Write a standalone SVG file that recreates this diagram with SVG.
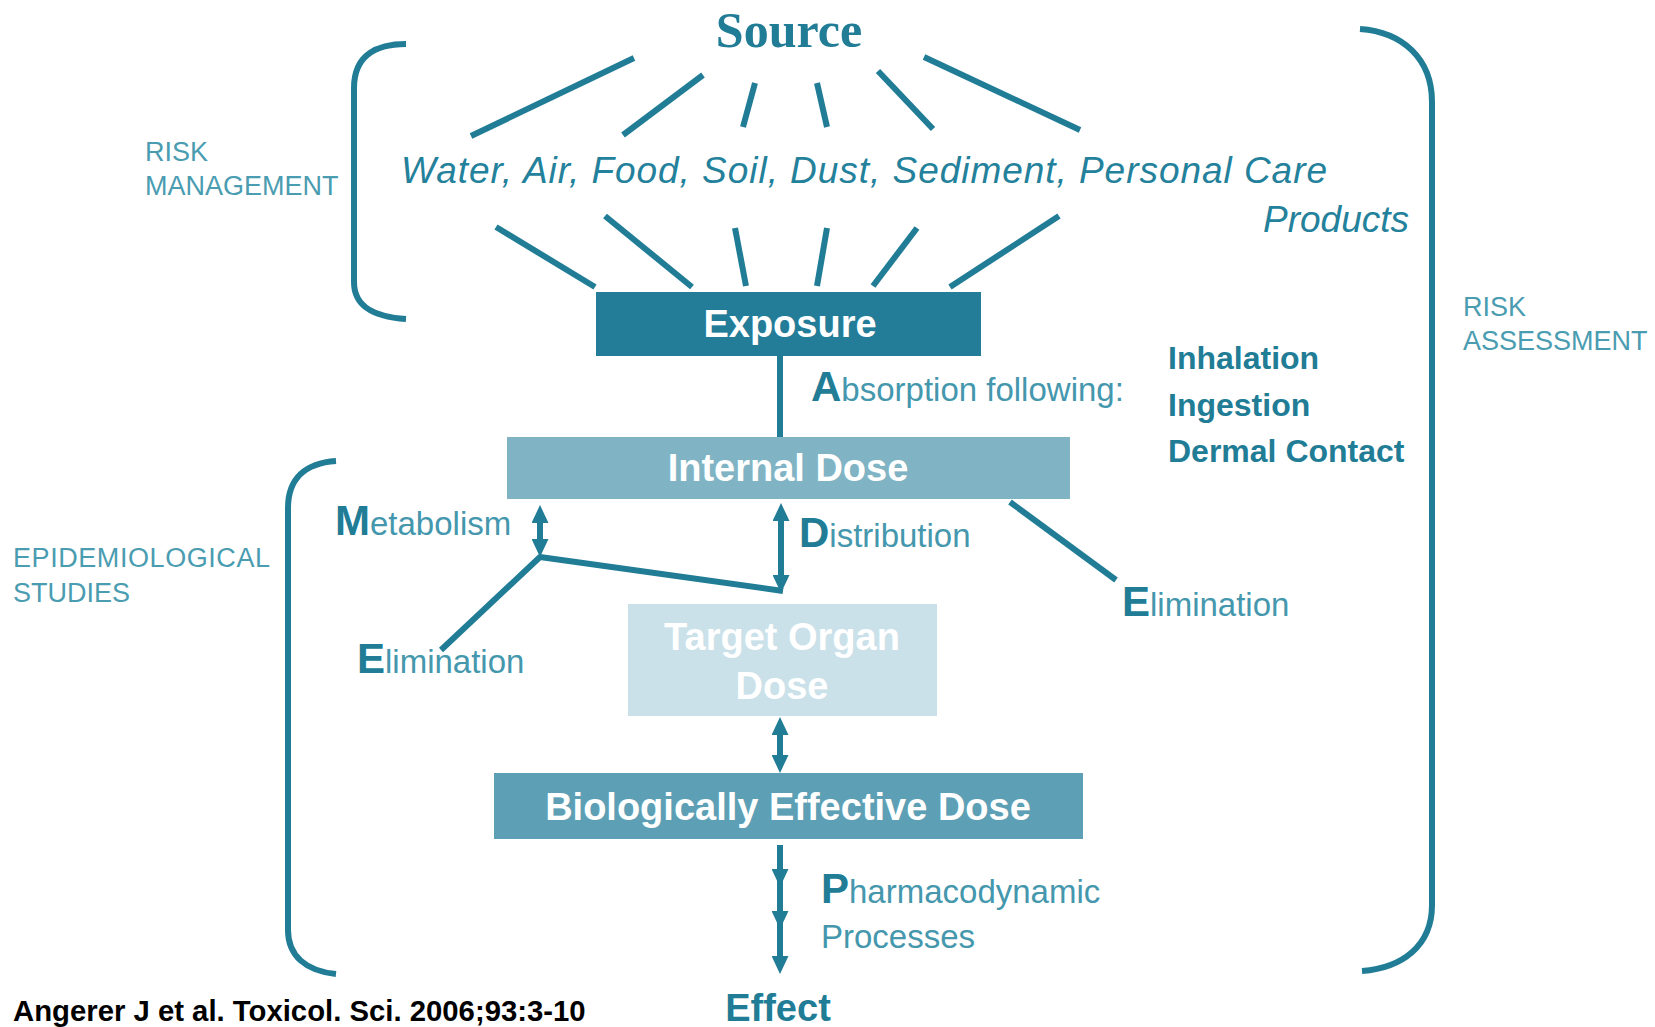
<svg xmlns="http://www.w3.org/2000/svg" width="1655" height="1027" viewBox="0 0 1655 1027">
  <style>
    .sans { font-family: "Liberation Sans", Arial, sans-serif; }
    .box-label { font-family: "Liberation Sans", Arial, sans-serif; font-weight: bold; font-size: 38px; fill: #ffffff; text-anchor: middle; }
    .route { font-family: "Liberation Sans", Arial, sans-serif; font-weight: bold; font-size: 32px; fill: #217c96; }
    .step { font-family: "Liberation Sans", Arial, sans-serif; font-size: 33px; fill: #4497ad; }
    .initial { font-weight: bold; font-size: 42px; fill: #217c96; }
    .side { font-family: "Liberation Sans", Arial, sans-serif; font-size: 27px; fill: #4a9cb1; }
    .ray { stroke: #217c96; stroke-width: 6; stroke-linecap: butt; fill: none; }
    .bracket { stroke: #217c96; stroke-width: 6; fill: none; stroke-linecap: butt; }
    .shaft { stroke: #217c96; stroke-width: 6; fill: none; }
  </style>
  <defs>
    <marker id="head" viewBox="0 0 18 17" refX="0" refY="8.5" markerWidth="18" markerHeight="17" markerUnits="userSpaceOnUse" orient="auto-start-reverse">
      <path d="M0,0 L18,8.5 L0,17 Z" fill="#217c96"/>
    </marker>
  </defs>

  <rect width="1655" height="1027" fill="#ffffff"/>

  <!-- Source heading -->
  <g id="source">
    <text x="789" y="47" text-anchor="middle" font-family="'Liberation Serif', 'Times New Roman', serif" font-weight="bold" font-size="50" fill="#217c96">Source</text>
  </g>

  <!-- Media list -->
  <g id="media">
    <text class="sans" x="401" y="183" font-style="italic" font-size="37" fill="#23819b" textLength="926" lengthAdjust="spacing">Water, Air, Food, Soil, Dust, Sediment, Personal Care</text>
    <text class="sans" x="1409" y="232" font-style="italic" font-size="37" fill="#23819b" text-anchor="end">Products</text>
  </g>

  <!-- Process boxes -->
  <g id="exposure">
    <rect x="596" y="292" width="385" height="64" fill="#237c98"/>
    <text class="box-label" x="790" y="337">Exposure</text>
  </g>
  <g id="internal-dose">
    <rect x="507" y="437" width="563" height="62" fill="#80b4c5"/>
    <text class="box-label" x="788" y="481">Internal Dose</text>
  </g>
  <g id="target-organ-dose">
    <rect x="628" y="604" width="309" height="112" fill="#cbe1e9"/>
    <text class="box-label" x="782" y="650">Target Organ</text>
    <text class="box-label" x="782" y="699">Dose</text>
  </g>
  <g id="biologically-effective-dose">
    <rect x="494" y="773" width="589" height="66" fill="#5da0b6"/>
    <text class="box-label" x="788" y="820">Biologically Effective Dose</text>
  </g>
  <g id="effect">
    <text x="778" y="1021" text-anchor="middle" class="sans" font-weight="bold" font-size="38" fill="#217c96">Effect</text>
  </g>

  <!-- Connectors -->
  <g id="connectors">
    <!-- source to media -->
    <line class="ray" x1="471" y1="136" x2="634" y2="58"/>
    <line class="ray" x1="623" y1="135" x2="703" y2="75"/>
    <line class="ray" x1="743" y1="127" x2="755" y2="83"/>
    <line class="ray" x1="827" y1="127" x2="817" y2="83"/>
    <line class="ray" x1="933" y1="129" x2="878" y2="71"/>
    <line class="ray" x1="1080" y1="130" x2="924" y2="57"/>
    <!-- media to exposure -->
    <line class="ray" x1="496" y1="227" x2="595" y2="287"/>
    <line class="ray" x1="605" y1="216" x2="692" y2="287"/>
    <line class="ray" x1="735" y1="228" x2="746" y2="286"/>
    <line class="ray" x1="827" y1="228" x2="817" y2="286"/>
    <line class="ray" x1="917" y1="228" x2="873" y2="286"/>
    <line class="ray" x1="1059" y1="216" x2="950" y2="287"/>
    <!-- absorption -->
    <line class="shaft" x1="780" y1="356" x2="780" y2="437"/>
    <!-- metabolism -->
    <line class="shaft" x1="540" y1="523" x2="540" y2="539" marker-start="url(#head)" marker-end="url(#head)"/>
    <!-- distribution -->
    <line class="shaft" x1="781" y1="521" x2="781" y2="575" marker-start="url(#head)" marker-end="url(#head)"/>
    <!-- metabolism / distribution junction and elimination -->
    <polyline class="shaft" stroke-linejoin="round" points="441,650 540,557 783,591"/>
    <!-- elimination from internal dose -->
    <line class="ray" x1="1010" y1="502" x2="1116" y2="580"/>
    <!-- target organ to biologically effective dose -->
    <line class="shaft" x1="780" y1="735" x2="780" y2="755" marker-start="url(#head)" marker-end="url(#head)"/>
    <!-- pharmacodynamic processes -->
    <polyline class="shaft" points="780,845 780,869 780,911 780,956" marker-mid="url(#head)" marker-end="url(#head)"/>
  </g>

  <!-- Step labels -->
  <g id="labels">
    <text class="step" x="811" y="401"><tspan class="initial">A</tspan>bsorption following:</text>
    <text class="route" x="1168" y="369">Inhalation</text>
    <text class="route" x="1168" y="416">Ingestion</text>
    <text class="route" x="1168" y="462">Dermal Contact</text>
    <text class="step" x="335" y="535"><tspan class="initial">M</tspan>etabolism</text>
    <text class="step" x="799" y="547"><tspan class="initial">D</tspan>istribution</text>
    <text class="step" x="357" y="673"><tspan class="initial">E</tspan>limination</text>
    <text class="step" x="1122" y="616"><tspan class="initial">E</tspan>limination</text>
    <text class="step" x="821" y="903"><tspan class="initial">P</tspan>harmacodynamic</text>
    <text class="step" x="821" y="948">Processes</text>
  </g>

  <!-- Brackets and their captions -->
  <g id="risk-management">
    <path class="bracket" d="M406,44 C378,44 354,54 354,88 L354,282 C354,308 376,317 406,319"/>
    <text class="side" x="145" y="161">RISK</text>
    <text class="side" x="145" y="195">MANAGEMENT</text>
  </g>
  <g id="epidemiological-studies">
    <path class="bracket" d="M336,461 C306,463 288,478 288,508 L288,930 C288,956 306,971 336,974"/>
    <text class="side" x="13" y="567" textLength="257" lengthAdjust="spacing">EPIDEMIOLOGICAL</text>
    <text class="side" x="13" y="602">STUDIES</text>
  </g>
  <g id="risk-assessment">
    <path class="bracket" d="M1360,29 C1402,32 1432,58 1432,102 L1432,905 C1432,946 1402,968 1362,971"/>
    <text class="side" x="1463" y="316">RISK</text>
    <text class="side" x="1463" y="350">ASSESSMENT</text>
  </g>

  <!-- Citation -->
  <text class="sans" x="13" y="1021" font-weight="bold" font-size="29.3" fill="#000000">Angerer J et al. Toxicol. Sci. 2006;93:3-10</text>
</svg>
